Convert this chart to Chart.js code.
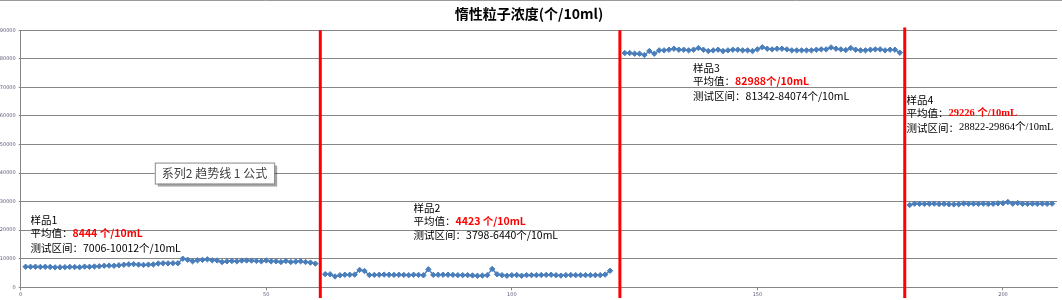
<!DOCTYPE html>
<html>
<head>
<meta charset="utf-8">
<script src="https://cdn.jsdelivr.net/npm/chart.js@4.4.1/dist/chart.umd.min.js"></script>
<style>
  html, body { margin: 0; padding: 0; background: #fff; }
  #wrap { width: 1062px; height: 300px; position: relative; }
</style>
</head>
<body>
<div id="wrap"><canvas id="c" width="1062" height="300"></canvas></div>
<script>
// Particle counts per measurement, one array per sample
const sample1 = [7200, 7180, 7210, 7150, 7190, 7120, 6980, 7006, 7050, 7150, 7100, 7020,
  7250, 7180, 7300, 7350, 7550, 7600, 7550, 7700, 7900, 8050, 8100, 7950, 7850, 7950,
  8000, 8350, 8400, 8380, 8450, 8420, 10012, 9650, 9100, 9450, 9600, 9800, 9450, 9400,
  8850, 9100, 9200, 9100, 9350, 9400, 9350, 9250, 9100, 9400, 9100, 9100, 8850, 9200,
  8850, 9000, 9100, 8850, 8650, 8300];
const sample2 = [4600, 4550, 3798, 4200, 4400, 4400, 4450, 6100, 5700, 4300, 4350, 4400,
  4450, 4400, 4350, 4400, 4350, 4250, 4400, 4350, 4200, 6300, 4350, 4400, 4400, 4400,
  4350, 4250, 4250, 4250, 4150, 4050, 4100, 4250, 6440, 4550, 4250, 4050, 4250, 4300,
  4050, 4250, 4250, 4250, 4300, 4350, 4400, 4250, 4100, 4250, 4300, 4250, 4250, 4250,
  4250, 4250, 4250, 4450, 5800];
const sample3 = [82040, 82040, 81810, 81810, 81342, 82740, 81810, 82980, 82980, 83210,
  83560, 83210, 83210, 82980, 83210, 83790, 83210, 82740, 82980, 83210,
  82740, 82980, 83210, 83210, 82980, 82980, 82740, 83330, 84074, 83560,
  83330, 83560, 83560, 83330, 82980, 82980, 82980, 82980, 82980, 83210,
  83330, 83330, 84000, 83560, 83330, 83100, 83790, 83210, 82980, 82980,
  83210, 83330, 83330, 82980, 83210, 83210, 82160];
const sample4 = [28822, 29300, 29250, 29200, 29250, 29300, 29150, 29200, 29100, 29050,
  29100, 29350, 29250, 29300, 29250, 29300, 29200, 29250, 29400, 29450,
  29864, 29300, 29500, 29250, 29200, 29300, 29250, 29300, 29250, 29300];

// Measurement index of each sample's first reading
const sampleStarts = [1, 62, 123, 181];
// Separators between samples (measurement index) and the concentration they reach up to
const dividerX = [61, 122, 180];
const dividerTop = [90000, 90000, 91000];

// Text blocks describing each sample
const sampleNames = ['样品1', '样品2', '样品3', '样品4'];
const meanLabels = ['8444 个/10mL', '4423 个/10mL', '82988个/10mL', '29226 个/10mL'];
const rangeLabels = ['7006-10012个/10mL', '3798-6440个/10mL', '81342-84074个/10mL', '28822-29864个/10mL'];
const meanPrefix = '平均值：';
const rangePrefix = '测试区间：';
const chartTitle = '惰性粒子浓度(个/10ml)';
const trendLabel = '系列2 趋势线 1 公式';

// Anchor of each text block in axis units (index, concentration)
const noteAnchors = [
  { x: 2.0, y: 23560 },
  { x: 80.0, y: 27870 },
  { x: 136.9, y: 76790 },
  { x: 180.35, y: 65580 }
];
const serifNotes = [false, false, false, true];
const trendAnchor = { x: 27.3, y: 40000 };

const CJK = '"Noto Sans CJK SC", "Noto Sans", sans-serif';
const SERIF = '"Liberation Serif", "Noto Sans CJK SC", serif';
const blue = '#4A7EBB';

const allSamples = [sample1, sample2, sample3, sample4];
const datasets = allSamples.map((vals, k) => ({
  label: sampleNames[k],
  data: vals.map((v, i) => ({ x: sampleStarts[k] + i, y: v })),
  borderColor: blue,
  backgroundColor: blue,
  borderWidth: 1.4,
  pointStyle: 'rectRot',
  pointRadius: 2.7,
  pointBorderWidth: 1,
  pointBackgroundColor: blue,
  pointBorderColor: blue,
  tension: 0
}));

const overlay = {
  id: 'overlay',
  afterDraw(chart) {
    const ctx = chart.ctx;
    const xs = chart.scales.x, ys = chart.scales.y;
    ctx.save();
    // red separators
    ctx.strokeStyle = '#FF0000';
    ctx.lineWidth = 3;
    dividerX.forEach((d, k) => {
      const px = xs.getPixelForValue(d);
      ctx.beginPath();
      ctx.moveTo(px, ys.getPixelForValue(dividerTop[k]));
      ctx.lineTo(px, chart.height - 2);
      ctx.stroke();
    });

    // sample notes
    ctx.textBaseline = 'middle';
    ctx.textAlign = 'left';
    noteAnchors.forEach((a, k) => {
      const x0 = xs.getPixelForValue(a.x);
      const y0 = ys.getPixelForValue(a.y);
      const latin = serifNotes[k] ? SERIF : CJK;
      ctx.fillStyle = '#000';
      ctx.font = '10.5px ' + CJK;
      ctx.fillText(sampleNames[k], x0, y0);
      // mean line
      ctx.fillText(meanPrefix, x0, y0 + 13);
      let w = ctx.measureText(meanPrefix).width;
      ctx.fillStyle = '#FF0000';
      ctx.font = 'bold 10.5px ' + latin;
      ctx.fillText(meanLabels[k], x0 + w, y0 + 13);
      // range line
      ctx.fillStyle = '#000';
      ctx.font = '10.5px ' + CJK;
      ctx.fillText(rangePrefix, x0, y0 + 27.5);
      w = ctx.measureText(rangePrefix).width;
      ctx.font = '10.5px ' + latin;
      ctx.fillText(rangeLabels[k], x0 + w, y0 + 27.5);
    });

    // trendline equation box
    const bx = xs.getPixelForValue(trendAnchor.x);
    const by = ys.getPixelForValue(trendAnchor.y);
    ctx.font = '12px ' + CJK;
    const tw = ctx.measureText(trendLabel).width;
    const bw = tw + 14, bh = 21;
    ctx.fillStyle = 'rgba(0,0,0,0.35)';
    ctx.fillRect(bx + 3, by - bh / 2 + 3, bw, bh);
    ctx.fillStyle = '#fff';
    ctx.fillRect(bx, by - bh / 2, bw, bh);
    ctx.strokeStyle = '#8a8a8a';
    ctx.lineWidth = 1;
    ctx.strokeRect(bx + 0.5, by - bh / 2 + 0.5, bw, bh);
    ctx.fillStyle = '#404040';
    ctx.fillText(trendLabel, bx + 7, by + 0.5);

    // outer frame top edge
    ctx.strokeStyle = '#9a9a9a';
    ctx.lineWidth = 1;
    ctx.beginPath();
    ctx.moveTo(0, 0.5);
    ctx.lineTo(chart.width, 0.5);
    ctx.stroke();
    ctx.restore();
  }
};

new Chart(document.getElementById('c'), {
  type: 'line',
  data: { datasets },
  options: {
    responsive: false,
    animation: false,
    layout: { padding: { top: 0.5, right: 4, bottom: 0, left: 0 } },
    plugins: {
      legend: { display: false },
      tooltip: { enabled: false },
      title: {
        display: true,
        text: chartTitle,
        color: '#000',
        font: { family: CJK, size: 14, weight: 'bold' },
        padding: { top: 5, bottom: 8 }
      }
    },
    scales: {
      x: {
        type: 'linear',
        min: 0,
        max: 211,
        afterFit(s) { s.height = 12.7; },
        ticks: {
          stepSize: 50, includeBounds: false, color: '#5a5a7a',
          font: { size: 5, family: 'DejaVu Sans' }, padding: 1, maxRotation: 0,
          callback: v => String(v)
        },
        grid: { display: true, drawOnChartArea: false, drawTicks: true, tickLength: 3, color: '#868686' },
        border: { display: true, color: '#868686' }
      },
      y: {
        min: 0,
        max: 90000,
        afterFit(s) { s.width = 20.7; },
        ticks: {
          stepSize: 10000, color: '#5a5a7a',
          font: { size: 5, family: 'DejaVu Sans' }, padding: 3,
          callback: v => String(v)
        },
        grid: { color: '#868686', lineWidth: 1, tickLength: 2 },
        border: { display: true, color: '#868686' }
      }
    }
  },
  plugins: [overlay]
});
</script>
</body>
</html>
